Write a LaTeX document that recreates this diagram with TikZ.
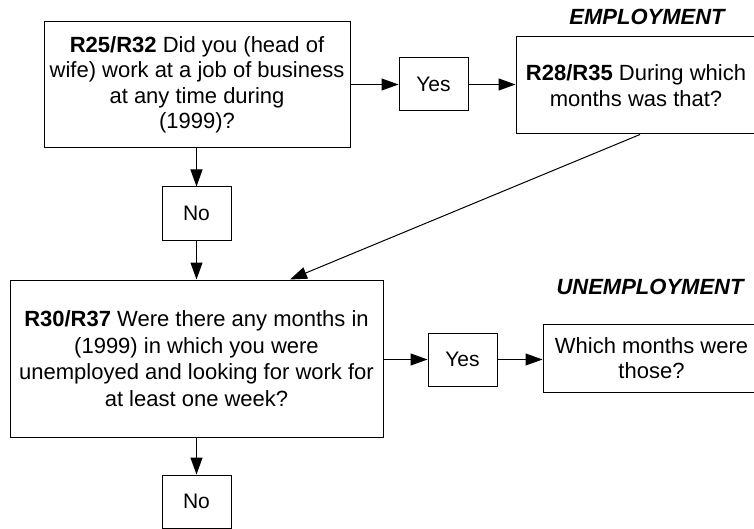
\documentclass[tikz,border=0pt]{standalone}
\usepackage{fontspec}
\setmainfont{Liberation Sans}
\usetikzlibrary{arrows.meta,calc}
\tikzset{>={Triangle[length=17pt,width=12pt]}}
\tikzset{
  qbox/.style={draw, line width=1pt, align=center, inner sep=0pt,
    font=\fontsize{22}{25.5}\selectfont},
  ansbox/.style={draw, line width=1pt, minimum width=69pt, minimum height=53pt,
    inner sep=0pt, font=\fontsize{21}{25}\selectfont},
  heading/.style={font=\fontsize{22}{25}\selectfont\bfseries\itshape},
  link/.style={->, line width=1pt}
}

\begin{document}
\begin{tikzpicture}[x=1pt,y=-1pt]
  \useasboundingbox (0,0) rectangle (754,529);
  \begin{scope}
  \clip (0,0) rectangle (754,529);
  % employment
  \node[qbox, minimum width=306pt, minimum height=126pt] (work) at (197,85)
    {\textbf{R25/R32} Did you (head of\\wife) work at a job of business\\at any time during\\(1999)?};
  \node[ansbox] (yesA) at (433.5,84.5) {Yes};
  \node[qbox, minimum width=240pt, minimum height=97pt] (when) at (636,85.5)
    {\textbf{R28/R35} During which\\months was that?};
  \node[ansbox] (noA) at (196.5,213.5) {No};
  \node[heading] (emp) at (647,17) {EMPLOYMENT};
  % unemployment
  \node[qbox, minimum width=373pt, minimum height=157pt,
    font=\fontsize{22}{26.5}\selectfont] (unemp) at (196.5,358.5)
    {\textbf{R30/R37} Were there any months in\\(1999) in which you were\\unemployed and looking for work for\\at least one week?};
  \node[ansbox] (yesB) at (462.5,359.5) {Yes};
  \node[qbox, minimum width=217pt, minimum height=68pt] (which) at (651.5,358)
    {Which months were\\those?};
  \node[ansbox] (noB) at (196.5,501.5) {No};
  \node[heading] (unh) at (650,287) {UNEMPLOYMENT};
  \end{scope}

  \draw[link] (work.east |- yesA) -- (yesA.west);
  \draw[link] (yesA.east) -- (when.west |- yesA);
  \draw[link] (work.south -| noA) -- (noA.north);
  \draw[link] (noA.south) -- (unemp.north -| noA);
  \draw[link] ($(when.south)+(4,0)$) -- ($(unemp.north)+(93.5,0)$);
  \draw[link] (unemp.east |- yesB) -- (yesB.west);
  \draw[link] (yesB.east) -- (which.west |- yesB);
  \draw[link] (unemp.south -| noB) -- (noB.north);
\end{tikzpicture}
\end{document}
